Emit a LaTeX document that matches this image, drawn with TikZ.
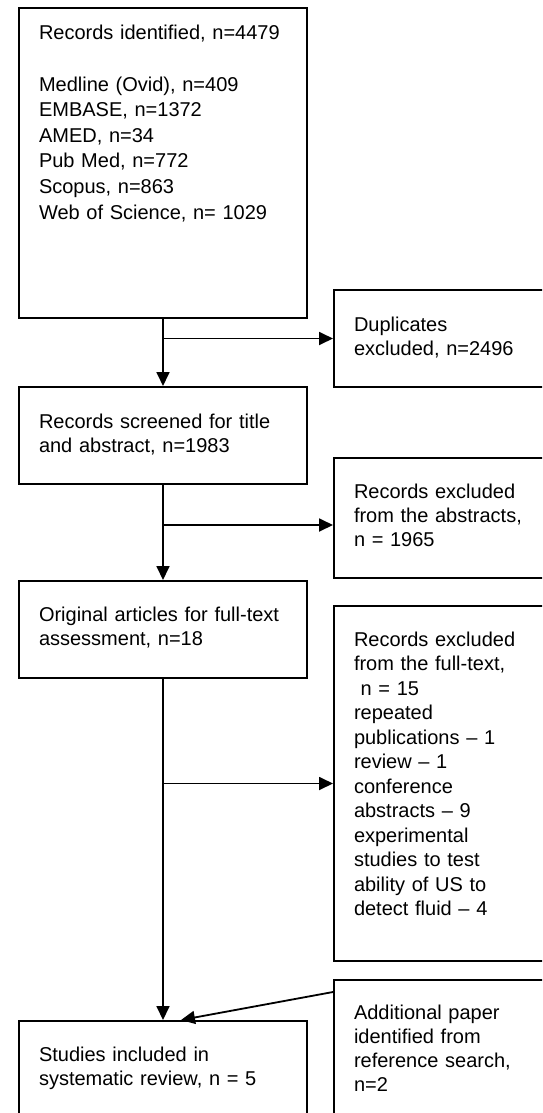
\documentclass[tikz,border=0pt]{standalone}
\usepackage{fontspec}
\setmainfont{Liberation Sans}
\usepackage{tikz}
\usetikzlibrary{positioning, arrows.meta, calc}
\tikzset{
    flowbox/.style={
        draw=black,
        line width=2pt,
        anchor=north west,
        align=left,
        inner xsep=20pt,
        inner ysep=0pt,
        text height=40pt,
        font=\fontsize{20}{24}\selectfont
    },
    leftbox/.style={
        flowbox,
        text width=248pt
    },
    rightbox/.style={
        flowbox,
        text width=187pt
    },
    flowarrow/.style={
        line width=1.8pt,
        -{Triangle[length=14pt,width=13pt]}
    }
}

\begin{document}
\begin{tikzpicture}[x=1pt,y=1pt]

      \useasboundingbox (0,0) rectangle (542,-1113);
      \clip (0,0) rectangle (542,-1113);

      % main column
      \node[leftbox,text height=32pt,text depth=278pt,font=\fontsize{20}{25.6}\selectfont] (ident) at (18,-7)
        {Records identified, n=4479\\[25.6pt]
         Medline (Ovid), n=409\\
         EMBASE, n=1372\\
         AMED, n=34\\
         Pub Med, n=772\\
         Scopus, n=863\\
         Web of Science, n= 1029};
      \node[leftbox,text height=41pt,text depth=56pt] (screen) at (18,-386)
        {Records screened for title\\and abstract, n=1983};
      \node[leftbox,text depth=57pt] (assess) at (18,-580)
        {Original articles for full-text\\assessment, n=18};
      \node[leftbox,text depth=70pt] (final) at (18,-1020)
        {Studies included in\\systematic review, n = 5};

      % side boxes
      \node[rightbox,text height=41pt,text depth=56pt] (dup) at (333,-289)
        {Duplicates\\excluded, n=2496};
      \node[rightbox,text depth=80pt] (abstr) at (333,-457)
        {Records excluded\\from the abstracts,\\n = 1965};
      \node[rightbox,text depth=315pt,font=\fontsize{20}{24.5}\selectfont] (fullx) at (333,-605)
        {Records excluded\\from the full-text,\\
         \ n = 15\\
         repeated\\publications -- 1\\
         review -- 1\\
         conference\\abstracts -- 9\\
         experimental\\studies to test\\ability of US to\\detect fluid -- 4};
      \node[rightbox,text height=39pt,text depth=112pt] (add) at (333,-979)
        {Additional paper\\identified from\\reference search,\\n=2};

      \coordinate (b1) at (ident.south |- dup.west);
      \coordinate (b2) at (162,-525);
      \coordinate (b3) at (assess.south |- fullx.west);
      \coordinate (addout) at ([yshift=-13pt]add.north west);

      \draw[flowarrow] (ident.south) -- (screen.north);
      \draw[flowarrow] (b1) -- (dup.west);
      \draw[flowarrow] (screen.south) -- (assess.north);
      \draw[flowarrow] (b2) -- (b2 -| abstr.west);
      \draw[flowarrow] (assess.south) -- (final.north);
      \draw[flowarrow] (b3) -- (fullx.west);
      \draw[flowarrow] (addout) -- ([xshift=18pt]final.north);

\end{tikzpicture}
\end{document}
